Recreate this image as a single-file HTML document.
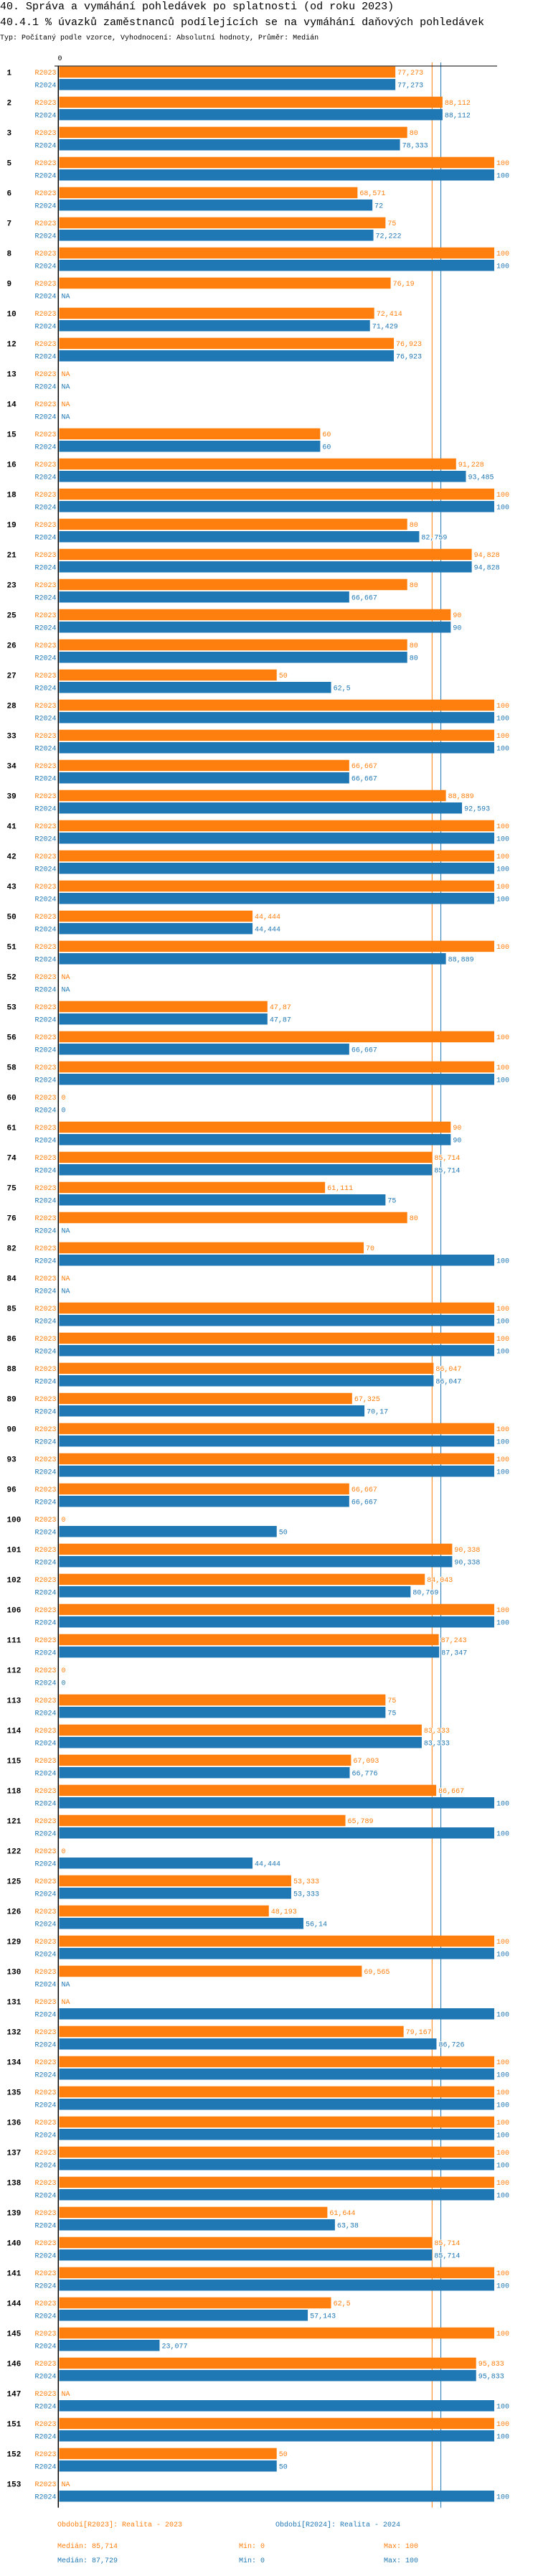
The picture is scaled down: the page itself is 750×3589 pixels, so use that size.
<!DOCTYPE html>
<html>
<head>
<meta charset="utf-8">
<style>
  html,body{margin:0;padding:0;background:#fff;}
  body{width:750px;height:3584px;overflow:hidden;}
  svg text{font-family:"Liberation Mono","DejaVu Sans Mono",monospace;}
</style>
</head>
<body>
<svg id="chart" width="750" height="3584" xmlns="http://www.w3.org/2000/svg">
  <text x="0" y="13" font-size="15" fill="#000">40. Správa a vymáhání pohledávek po splatnosti (od roku 2023)</text>
  <text x="0" y="35" font-size="15" fill="#000">40.4.1 % úvazků zaměstnanců podílejících se na vymáhání daňových pohledávek</text>
  <text x="0" y="55" font-size="10" fill="#000">Typ: Počítaný podle vzorce, Vyhodnocení: Absolutní hodnoty, Průměr: Medián</text>
  <g id="plot"></g>
  <g id="legend">
    <text x="80" y="3520" font-size="10" fill="#ff7f0e">Období[R2023]: Realita - 2023</text>
    <text x="384" y="3520" font-size="10" fill="#1f77b4">Období[R2024]: Realita - 2024</text>
    <text x="80" y="3550" font-size="10" fill="#ff7f0e">Medián: 85,714</text>
    <text x="333" y="3550" font-size="10" fill="#ff7f0e">Min: 0</text>
    <text x="535" y="3550" font-size="10" fill="#ff7f0e">Max: 100</text>
    <text x="80" y="3570" font-size="10" fill="#1f77b4">Medián: 87,729</text>
    <text x="333" y="3570" font-size="10" fill="#1f77b4">Min: 0</text>
    <text x="535" y="3570" font-size="10" fill="#1f77b4">Max: 100</text>
  </g>
</svg>
<script>
const categories = [1,2,3,5,6,7,8,9,10,12,13,14,15,16,18,19,21,23,25,26,27,28,33,34,39,41,42,43,50,51,52,53,56,58,60,61,74,75,76,82,84,85,86,88,89,90,93,96,100,101,102,106,111,112,113,114,115,118,121,122,125,126,129,130,131,132,134,135,136,137,138,139,140,141,144,145,146,147,151,152,153];
const valuesR2023 = [77.273,88.112,80,100,68.571,75,100,76.19,72.414,76.923,null,null,60,91.228,100,80,94.828,80,90,80,50,100,100,66.667,88.889,100,100,100,44.444,100,null,47.87,100,100,0,90,85.714,61.111,80,70,null,100,100,86.047,67.325,100,100,66.667,0,90.338,84.043,100,87.243,0,75,83.333,67.093,86.667,65.789,0,53.333,48.193,100,69.565,null,79.167,100,100,100,100,100,61.644,85.714,100,62.5,100,95.833,null,100,50,null];
const valuesR2024 = [77.273,88.112,78.333,100,72,72.222,100,null,71.429,76.923,null,null,60,93.485,100,82.759,94.828,66.667,90,80,62.5,100,100,66.667,92.593,100,100,100,44.444,88.889,null,47.87,66.667,100,0,90,85.714,75,null,100,null,100,100,86.047,70.17,100,100,66.667,50,90.338,80.769,100,87.347,0,75,83.333,66.776,100,100,44.444,53.333,56.14,100,null,100,86.726,100,100,100,100,100,63.38,85.714,100,57.143,23.077,95.833,100,100,50,100];
const medians = [85.714, 87.729];
const seriesNames = ["R2023","R2024"];
const xTicks = [0];

const NS = "http://www.w3.org/2000/svg";
const X0 = 82.5, XW = 606.5, TOP = 92.7, PITCH = 42, BARH = 15.5, GAP2 = 17.3;
const colors = ["#ff7f0e","#1f77b4"];
const xScale = v => X0 + v / 100 * XW;
const yScale = i => TOP + i * PITCH;
const plot = document.getElementById("plot");
function mk(tag, attrs){ const e=document.createElementNS(NS,tag); for(const k in attrs) e.setAttribute(k,attrs[k]); return e; }
const fmt = v => String(v).replace(".", ",");
const bottom = yScale(categories.length - 1) + PITCH - 1;

// median lines
medians.forEach((m, s) => {
  const l = mk("line", {x1:xScale(m), x2:xScale(m), y1:87, y2:bottom, stroke:colors[s], "stroke-width":1});
  
  
  plot.appendChild(l);
});

// tick labels
xTicks.forEach(t => {
  const tx = mk("text", {x:xScale(t)-2, y:84, "font-size":10, fill:"#000"});
  tx.textContent = String(t);
  
  
  plot.appendChild(tx);
});

categories.forEach((c, i) => {
  const y = yScale(i);
  const gl = mk("text", {x:9.5, y:y+BARH/2+4, "font-size":11, "font-weight":"bold", fill:"#000"});
  gl.textContent = String(c);
  
  
  plot.appendChild(gl);
  [valuesR2023, valuesR2024].forEach((arr, s) => {
    const yy = y + s * GAP2;
    const v = arr[i];
    const sl = mk("text", {x:78.5, y:yy+BARH/2+3.5, "font-size":10, fill:colors[s], "text-anchor":"end"});
    sl.textContent = seriesNames[s];
    
    
    plot.appendChild(sl);
    let endX = X0;
    if (v !== null && v > 0) {
      const r = mk("rect", {x:X0, y:yy, width:xScale(v)-X0, height:BARH, fill:colors[s]});
      
      
      plot.appendChild(r);
      endX = xScale(v);
    }
    const vl = mk("text", {x:endX+3, y:yy+BARH/2+3.5, "font-size":10, fill:colors[s], stroke:"#fff", "stroke-width":2, "paint-order":"stroke"});
    vl.textContent = v === null ? "NA" : fmt(v);
    
    
    plot.appendChild(vl);
  });
});

// axes
const ax = mk("line", {x1:76, x2:693, y1:92, y2:92, stroke:"#000", "stroke-width":1});


plot.appendChild(ax);
const ay = mk("line", {x1:81.3, x2:81.3, y1:92, y2:bottom, stroke:"#000", "stroke-width":1.5});


plot.appendChild(ay);
</script>
</body>
</html>
